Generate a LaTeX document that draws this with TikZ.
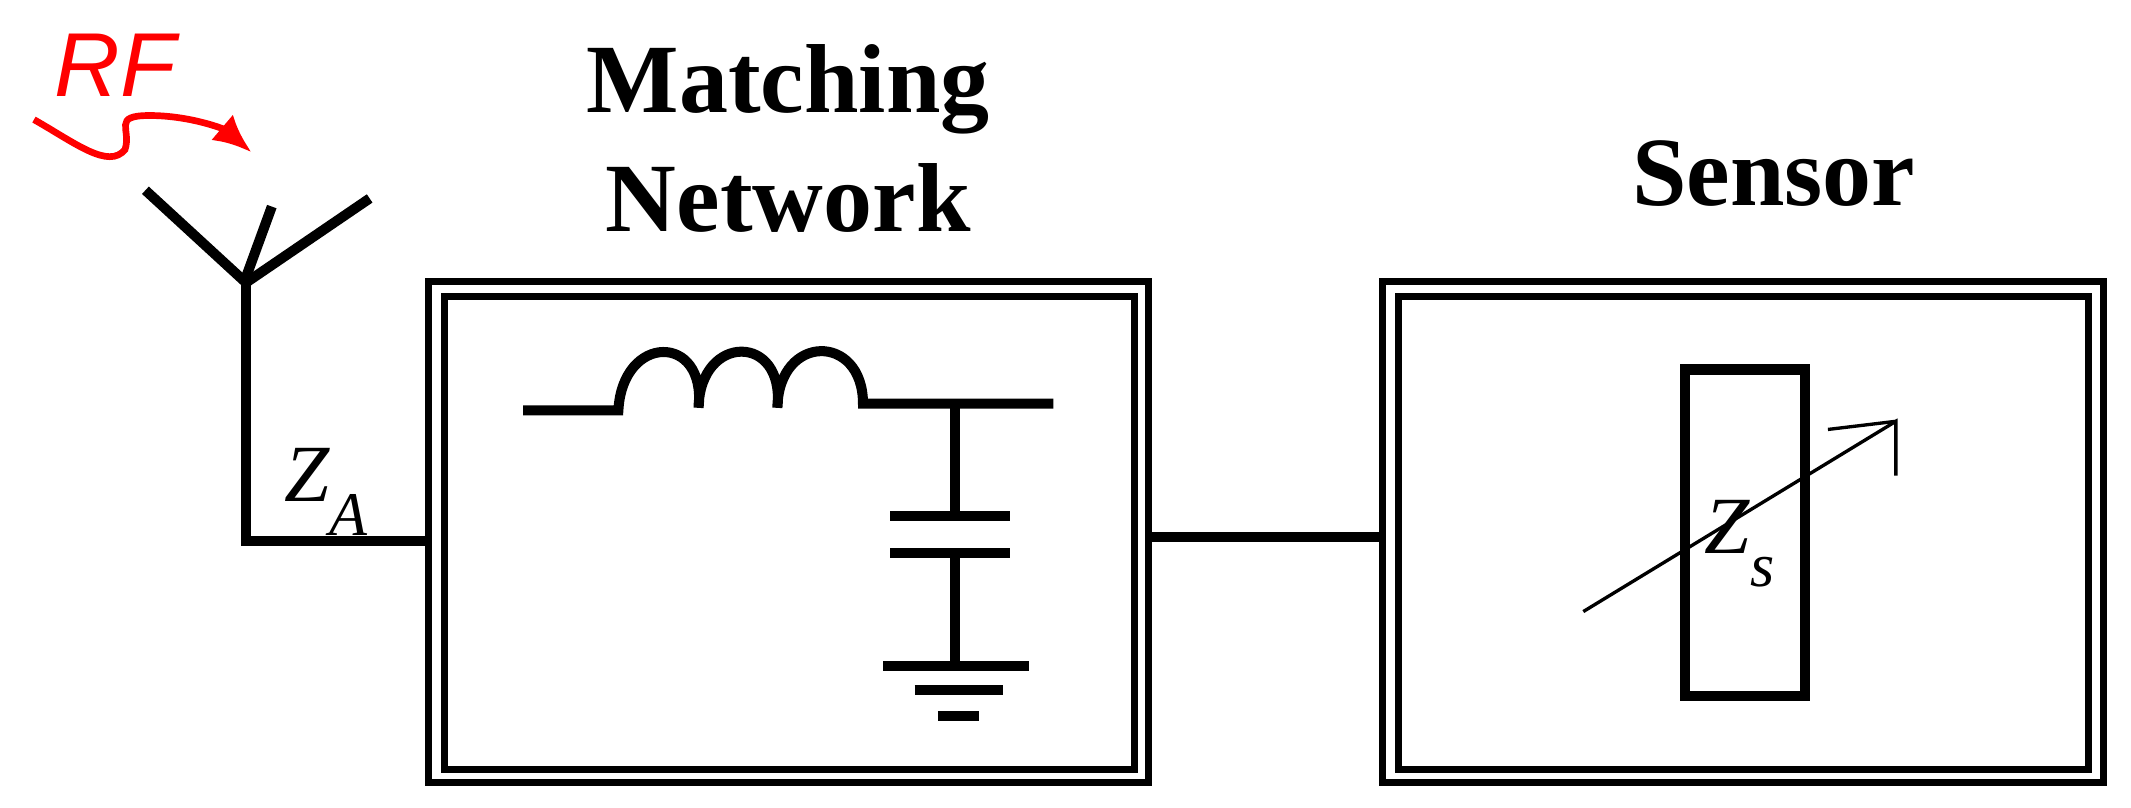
\documentclass[tikz,border=0pt]{standalone}
\usepackage{fontspec}
\setmainfont{Liberation Serif}
\newfontfamily\rfsans{Liberation Sans}
\usetikzlibrary{arrows.meta,positioning}

\tikzset{
  wire/.style={line width=2.1pt},
  frame/.style={line width=1.5pt},
  title/.style={font=\fontsize{20.5}{23}\selectfont\bfseries,align=center}
}

\begin{document}
\begin{tikzpicture}[x=0.01cm,y=-0.01cm]
\useasboundingbox (0,0) rectangle (1568,594);

% boxes
\draw[frame] (315,207) rectangle (845,576);
\draw[frame] (327,218) rectangle (835,566);
\draw[frame] (1017,207) rectangle (1548,576);
\draw[frame] (1029,218) rectangle (1537,566);
\coordinate (mnout) at (845,395);
\coordinate (snin) at (1017,395);
\coordinate (mnin) at (315,398);

\node[title] (mtitle) at (580,102) {Matching\\[2pt]Network};
\node[title] (stitle) at (1305,128) {Sensor};

% antenna
\coordinate (feed) at (181,208);
\coordinate (corner) at (181,398);
\draw[wire] (107,140) -- (feed) -- (272,146);
\draw[wire] (181,204) -- (200,152);
\draw[wire] (feed) -- (corner) -- (mnin);
\node[font=\fontsize{17}{20}\selectfont\itshape] (za) at (240,362) {Z\raisebox{-7pt}{\fontsize{13}{14}\selectfont A}};

% RF wave
\node[red,font=\rfsans\fontsize{19}{22}\selectfont\itshape] (rf) at (85,48) {RF};
\draw[red,line width=1.4pt,-{Latex[length=8pt,width=7pt]}] (25,88) .. controls (55,105) and (80,125) .. (92,110)
  .. controls (97,95) and (82,85) .. (110,85) .. controls (140,85) and (165,95) .. (185,112);

% inductor
\draw[wire] (385,302) -- (455,302)
  .. controls (458,245) and (520,245) .. (514,300)
  .. controls (515,245) and (578,245) .. (572,300)
  .. controls (573,245) and (635,245) .. (635,297) -- (775,297);

% capacitor and ground
\coordinate (tap) at (703,297);
\draw[wire] (tap) -- (703,380);
\draw[wire] (655,380) -- (743,380);
\draw[wire] (655,407) -- (743,407);
\draw[wire] (703,407) -- (703,490);
\draw[wire] (650,490) -- (757,490);
\draw[wire] (673,508) -- (738,508);
\draw[wire] (690,527) -- (720,527);

% link
\draw[wire] (mnout) -- (snin);

% sensor
\node[draw,line width=2.2pt,minimum width=0.88cm,minimum height=2.4cm,inner sep=0pt] (zs) at (1284,392) {};
\draw[line width=0.7pt] (1165,450) -- (1395,310) -- (1395,350);
\draw[line width=0.7pt] (1345,316) -- (1395,310);
\node[font=\fontsize{17}{20}\selectfont\itshape,inner sep=1pt] (zsl) at (1280,400) {Z\raisebox{-7pt}{\fontsize{13}{14}\selectfont s}};
\end{tikzpicture}
\end{document}
